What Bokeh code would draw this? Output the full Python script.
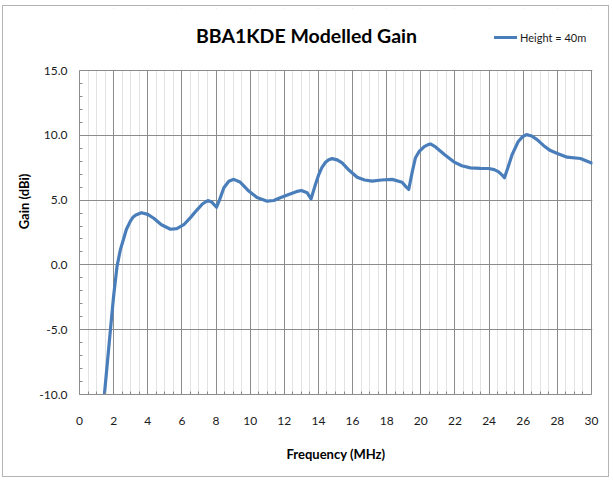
from bokeh.plotting import figure
from bokeh.models import (Range1d, Label, Legend, LegendItem, SingleIntervalTicker,
                          PrintfTickFormatter, BoxAnnotation)
from bokeh.embed import file_html
from bokeh.resources import INLINE

title_text = "BBA1KDE Modelled Gain"
series_name = "Height = 40m"
x_label = "Frequency (MHz)"
y_label = "Gain (dBi)"

freq_mhz = [1.46, 1.82, 2.0, 2.2, 2.4, 2.56, 2.75, 2.99, 3.15, 3.3, 3.63, 4.0, 4.35, 4.8,
            5.33, 5.7, 6.11, 6.5, 6.89, 7.2, 7.52, 7.75, 8.03, 8.2, 8.46, 8.75, 9.04, 9.4,
            9.92, 10.4, 11.0, 11.38, 11.8, 12.26, 12.7, 13.0, 13.34, 13.57, 13.8, 14.02,
            14.2, 14.4, 14.6, 14.8, 15.1, 15.39, 15.8, 16.27, 16.7, 17.15, 17.7, 18.32,
            18.9, 19.15, 19.29, 19.5, 19.68, 19.9, 20.2, 20.43, 20.56, 20.86, 21.4, 21.93,
            22.4, 22.9, 23.5, 23.98, 24.3, 24.56, 24.75, 24.9, 25.1, 25.35, 25.7, 25.95,
            26.19, 26.5, 26.81, 27.2, 27.59, 28.0, 28.57, 29.35, 30.0]
gain_dbi = [-10.0, -4.9, -2.4, -0.1, 1.2, 1.9, 2.75, 3.4, 3.7, 3.85, 4.03, 3.9, 3.6, 3.1,
            2.75, 2.8, 3.1, 3.65, 4.25, 4.7, 4.97, 4.85, 4.45, 5.0, 5.95, 6.45, 6.6, 6.4,
            5.7, 5.2, 4.92, 4.97, 5.2, 5.44, 5.65, 5.74, 5.56, 5.1, 6.1, 6.97,
            7.5, 7.9, 8.12, 8.2, 8.1, 7.87, 7.3, 6.77, 6.55, 6.46, 6.55, 6.6,
            6.38, 6.0, 5.82, 7.2, 8.25, 8.75, 9.12, 9.28, 9.33, 9.1, 8.5, 7.95,
            7.65, 7.49, 7.45, 7.44, 7.35, 7.18, 6.95, 6.72, 7.5, 8.51, 9.5, 9.88,
            10.05, 9.95, 9.67, 9.2, 8.82, 8.6, 8.31, 8.21, 7.87]

x_min, x_max, x_step = 0, 30, 2
y_min, y_max, y_step = -10, 15, 5

FONT = "Lato"
GRID = "#8c8c8c"
LINE = "#4A7EBB"

# layout (page pixels)
FRAME_L, FRAME_R, FRAME_B, Y15_PX, FRAME_T = 79, 592, 394, 70, 8
OX, OY, W, H = 3, 6, 607, 472
px_per_x = (591 - FRAME_L) / (x_max - x_min)
px_per_y = (FRAME_B - Y15_PX) / (y_max - y_min)
x_end = x_max + (FRAME_R - 591) / px_per_x
y_top = y_max + (Y15_PX - FRAME_T) / px_per_y

p = figure(width=W, height=H, output_backend="svg", toolbar_location=None, title=None,
           x_range=Range1d(x_min, x_end), y_range=Range1d(y_min, y_top),
           min_border_left=FRAME_L - OX, min_border_right=OX + W - FRAME_R,
           min_border_top=FRAME_T - OY, min_border_bottom=OY + H - FRAME_B,
           background_fill_color="white", border_fill_color="white",
           styles={"margin-left": f"{OX - 1}px", "margin-top": f"{OY - 1}px",
                   "border": "1px solid #b4b4b4"})
p.outline_line_color = None

r = p.line(freq_mhz, gain_dbi, line_color=LINE, line_width=3.2, line_join="round",
           line_cap="round")

# axes
p.xaxis.ticker = SingleIntervalTicker(interval=x_step, num_minor_ticks=4)
p.yaxis.ticker = SingleIntervalTicker(interval=y_step, num_minor_ticks=5)
p.yaxis.formatter = PrintfTickFormatter(format="%.1f")
p.xaxis.bounds = (x_min, x_max)
p.yaxis.bounds = (y_min, y_max)
for ax in (p.xaxis[0], p.yaxis[0]):
    ax.axis_line_color = GRID
    ax.major_tick_in = 0
    ax.major_tick_out = 0
    ax.minor_tick_in = 3
    ax.minor_tick_out = 0
    ax.minor_tick_line_color = GRID
    ax.major_label_text_font = FONT
    ax.major_label_text_font_size = "12px"
    ax.major_label_text_color = "#1a1a1a"
    ax.axis_label_text_font = FONT
    ax.axis_label_text_font_size = "13px"
    ax.axis_label_text_font_style = "bold"
    ax.axis_label_text_color = "#000000"
p.xaxis.axis_label = x_label
p.yaxis.axis_label = y_label
p.xaxis.major_label_standoff = 22
p.xaxis.axis_label_standoff = 18
p.yaxis.major_label_standoff = 12
p.yaxis.axis_label_standoff = 4

# grid
p.xgrid.grid_line_color = GRID
p.xgrid.minor_grid_line_color = "#e3e3e3"
p.ygrid.grid_line_color = GRID
p.ygrid.minor_grid_line_color = None
p.xgrid.level = "underlay"

# white cover for the title strip above the plot area
p.add_layout(BoxAnnotation(bottom=y_max + 0.6 / px_per_y, top=y_top + 1,
                           left=x_min - 1, right=x_end + 1,
                           fill_color="white", fill_alpha=1, line_color=None))

# title
p.add_layout(Label(x=x_min + (306 - FRAME_L) / px_per_x,
                   y=y_max + (Y15_PX - 35) / px_per_y,
                   text=title_text, text_font=FONT, text_font_size="19.5px",
                   text_font_style="bold", text_align="center", text_baseline="middle",
                   text_color="#000000"))

legend = Legend(items=[LegendItem(label=series_name, renderers=[r])],
                location=(494 - FRAME_L, FRAME_B - 44), padding=0, margin=0, spacing=0,
                glyph_width=23, glyph_height=14, label_height=14, label_standoff=3,
                border_line_color=None, background_fill_alpha=0,
                label_text_font=FONT, label_text_font_size="11px",
                label_text_color="#1a1a1a")
p.add_layout(legend)

open("out.html", "w").write(file_html(p, INLINE))
